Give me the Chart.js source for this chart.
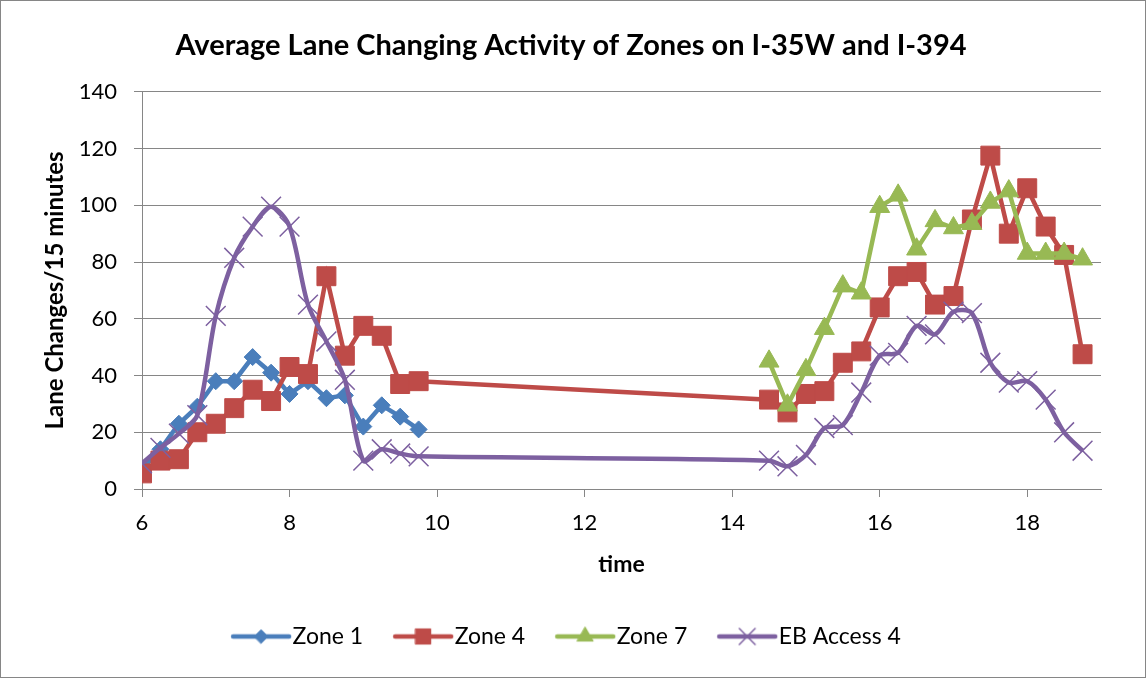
<!DOCTYPE html>
<html>
<head>
<meta charset="utf-8">
<title>Lane Changing Activity</title>
<style>
  html, body { margin: 0; padding: 0; background: #fff; }
  #chart { display: block; }
</style>
</head>
<body>
<canvas id="chart" width="1146" height="678"></canvas>
<script src="https://cdn.jsdelivr.net/npm/chart.js"></script>
<script>
  // sample times (hours), 15-minute bins
  const amTimes = [6, 6.25, 6.5, 6.75, 7, 7.25, 7.5, 7.75, 8, 8.25, 8.5, 8.75, 9, 9.25, 9.5, 9.75];
  const pmTimes = [14.5, 14.75, 15, 15.25, 15.5, 15.75, 16, 16.25, 16.5, 16.75, 17, 17.25, 17.5, 17.75, 18, 18.25, 18.5, 18.75];

  // lane changes per 15 minutes
  const zone1Am = [7, 14, 23, 29, 38, 38, 46.5, 41, 33.5, 38, 32, 33, 22, 29.5, 25.5, 21];
  const zone4Am = [5.5, 10, 10.5, 20, 23, 28.5, 35, 31, 43, 40.5, 75, 47, 57.5, 54, 37, 38];
  const zone4Pm = [31.5, 27, 33.5, 34.5, 44.5, 48.5, 64, 75, 76.5, 65, 68, 95, 117.5, 90, 106, 92.5, 82.5, 47.5];
  const zone7Pm = [45, 29.5, 42, 56.5, 71.5, 69, 99.5, 103.5, 84.5, 94.5, 92, 93.5, 101, 105, 83, 83, 83, 81];
  const ebAm = [9, 14.5, 19.5, 26, 61, 81.5, 92.5, 99.5, 92.5, 65, 52, 38.5, 10, 14, 12.5, 11.5];
  const ebPm = [10, 8, 12, 21.5, 22.5, 34, 47, 48, 57.5, 54.5, 62.5, 62, 44.5, 37.5, 38, 31.5, 20, 13.5];

  const xTicks = [6, 8, 10, 12, 14, 16, 18];
  const yTicks = [0, 20, 40, 60, 80, 100, 120, 140];

  const FONT = "Lato, 'Open Sans', sans-serif";
  const GRID = '#868686';

  function pts(xs, ys) {
    return ys.map((y, i) => ({ x: xs[i], y: y }));
  }

  const series = [
    { label: 'Zone 1', color: '#4A7EBB', style: 'rectRot', r: 8.5, bw: 1, tension: 0,
      data: pts(amTimes, zone1Am) },
    { label: 'Zone 4', color: '#BE4B48', style: 'rect', r: 13.4, bw: 1, tension: 0,
      data: pts(amTimes, zone4Am).concat(pts(pmTimes, zone4Pm)) },
    { label: 'Zone 7', color: '#98B954', style: 'triangle', r: 11.5, bw: 1, tension: 0,
      data: pts(pmTimes, zone7Pm) },
    { label: 'EB Access 4', color: '#7D60A0', style: 'crossRot', r: 14, bw: 1.5, tension: 0.3,
      data: pts(amTimes, ebAm).concat(pts(pmTimes, ebPm)) }
  ];

  // small line + marker swatch for the legend
  function swatch(s) {
    const c = document.createElement('canvas');
    c.width = 64; c.height = 26;
    const g = c.getContext('2d');
    g.strokeStyle = s.color; g.fillStyle = s.color;
    g.lineWidth = 4.5; g.lineCap = 'round';
    g.beginPath(); g.moveTo(4, 13); g.lineTo(60, 13); g.stroke();
    g.lineWidth = s.bw;
    Chart.helpers.drawPoint(g, { pointStyle: s.style, radius: s.r * 0.8, borderWidth: s.bw, rotation: 0 }, 32, 13);
    return c;
  }
  const swatches = series.map(swatch);

  const frame = {
    id: 'frame',
    beforeDraw(chart) {
      const { ctx, width, height } = chart;
      ctx.save();
      ctx.fillStyle = '#fff';
      ctx.fillRect(0, 0, width, height);
      ctx.strokeStyle = GRID;
      ctx.lineWidth = 1;
      ctx.strokeRect(0.5, 0.5, width - 1, height - 1);
      ctx.restore();
    }
  };

  new Chart(document.getElementById('chart'), {
    type: 'scatter',
    data: {
      datasets: series.map((s, i) => ({
        label: s.label,
        data: s.data,
        showLine: true,
        borderColor: s.color,
        backgroundColor: s.color,
        borderWidth: 4.5,
        tension: s.tension,
        pointStyle: s.style,
        pointRadius: s.r,
        pointHoverRadius: s.r,
        pointBorderWidth: s.bw,
        pointBackgroundColor: s.color,
        pointBorderColor: s.color,
        order: series.length - i
      }))
    },
    options: {
      responsive: false,
      animation: false,
      events: [],
      layout: { padding: { left: 41, right: 45, top: 0, bottom: 20 } },
      plugins: {
        title: {
          display: true,
          text: 'Average Lane Changing Activity of Zones on I-35W and I-394',
          color: '#000',
          font: { family: FONT, size: 29, weight: 'bold' },
          padding: { top: 28, bottom: 29 }
        },
        legend: {
          position: 'bottom',
          labels: {
            usePointStyle: true,
            pointStyleWidth: 40,
            padding: 40,
            color: '#000',
            font: { family: FONT, size: 23 },
            generateLabels: chart => chart.data.datasets.map((ds, i) => ({
              text: ds.label,
              pointStyle: swatches[i],
              fillStyle: ds.borderColor,
              strokeStyle: ds.borderColor,
              fontColor: '#000',
              lineWidth: 0,
              hidden: false,
              datasetIndex: i
            }))
          }
        },
        tooltip: { enabled: false }
      },
      scales: {
        x: {
          type: 'linear',
          min: 6,
          max: 19,
          afterFit: scale => { scale.height = 96; },
          afterBuildTicks: scale => { scale.ticks = xTicks.map(v => ({ value: v })); },
          ticks: { color: '#000', padding: 13, font: { family: FONT, size: 22 } },
          grid: { drawOnChartArea: false, drawTicks: true, tickLength: 8, color: GRID },
          border: { color: GRID },
          title: {
            display: true,
            text: 'time',
            color: '#000',
            font: { family: FONT, size: 23, weight: 'bold' },
            padding: { top: 0, bottom: 7 }
          }
        },
        y: {
          min: 0,
          max: 140,
          afterFit: scale => { scale.width = 101; },
          afterBuildTicks: scale => { scale.ticks = yTicks.map(v => ({ value: v })); },
          ticks: { color: '#000', padding: 17, font: { family: FONT, size: 22 } },
          grid: { color: GRID, tickLength: 8 },
          border: { color: GRID },
          title: {
            display: true,
            text: 'Lane Changes/15 minutes',
            color: '#000',
            font: { family: FONT, size: 24, weight: 'bold' },
            padding: { top: 0, bottom: 0 }
          }
        }
      }
    },
    plugins: [frame]
  });
</script>
</body>
</html>
